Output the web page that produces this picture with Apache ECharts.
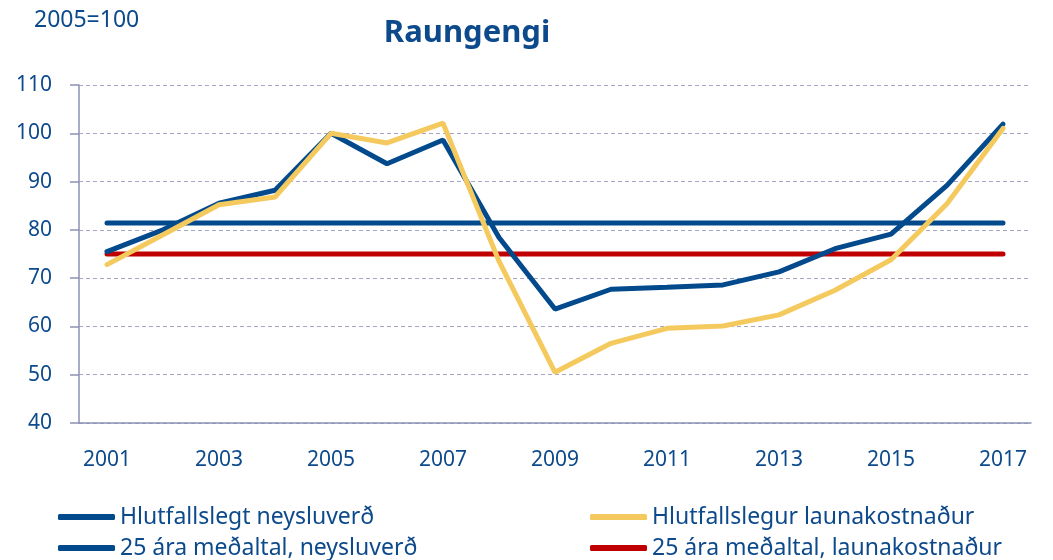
<!DOCTYPE html>
<html>
<head>
<meta charset="utf-8">
<script src="https://cdn.jsdelivr.net/npm/echarts@6/dist/echarts.min.js"></script>
<style>
  html, body { margin: 0; padding: 0; background: #fff; }
  #main { width: 1053px; height: 560px; }
</style>
</head>
<body>
<div id="main"></div>
<script>
// ár á x-ásnum
const years = ['2001', '2002', '2003', '2004', '2005', '2006', '2007', '2008', '2009',
  '2010', '2011', '2012', '2013', '2014', '2015', '2016', '2017']

// Hlutfallslegt neysluverð
const neysluverd = [75.5, 80.0, 85.5, 88.2, 100.0, 93.7, 98.6, 78.4, 63.6,
  67.7, 68.1, 68.6, 71.3, 76.1, 79.1, 89.2, 101.9]

// Hlutfallslegur launakostnaður
const launakostnadur = [72.8, 79.0, 85.2, 86.8, 100.0, 98.0, 102.1, 73.5, 50.5,
  56.5, 59.6, 60.1, 62.4, 67.5, 73.8, 85.4, 101.0]

// 25 ára meðaltöl
const medaltalNeysluverd = [81.4, 81.4, 81.4, 81.4, 81.4, 81.4, 81.4, 81.4, 81.4,
  81.4, 81.4, 81.4, 81.4, 81.4, 81.4, 81.4, 81.4]
const medaltalLaun = [75.0, 75.0, 75.0, 75.0, 75.0, 75.0, 75.0, 75.0, 75.0,
  75.0, 75.0, 75.0, 75.0, 75.0, 75.0, 75.0, 75.0]

const txtColor = '#0d4a8c'
const font = '"Noto Sans", sans-serif'

const chart = echarts.init(document.getElementById('main'))

// ein skýring fyrir hverja línu, svo staðsetningin sé eins og á myndinni
function legendItem(name, left, top) {
  return {
    left: left,
    top: top,
    padding: 0,
    data: [name],
    icon: 'roundRect',
    itemWidth: 57,
    itemHeight: 6,
    itemGap: 0,
    textStyle: { color: txtColor, fontSize: 23, fontFamily: font, lineHeight: 24 }
  }
}

const option = {
  animation: false,
  title: [{
    text: 'Raungengi',
    left: 462,
    top: 13,
    textAlign: 'center',
    textStyle: { color: txtColor, fontSize: 31, fontWeight: 'bold', fontFamily: font }
  }, {
    text: '2005=100',
    left: 29,
    top: 4,
    textStyle: { color: txtColor, fontSize: 23, fontWeight: 'normal', fontFamily: font }
  }],
  legend: [
    legendItem('Hlutfallslegt neysluverð', 58, 505),
    legendItem('25 ára meðaltal, neysluverð', 58, 536),
    legendItem('Hlutfallslegur launakostnaður', 590, 505),
    legendItem('25 ára meðaltal, launakostnaður', 590, 536)
  ],
  grid: { left: 79, right: 22, top: 85, bottom: 137 },
  xAxis: {
    type: 'category',
    data: years,
    boundaryGap: true,
    axisLine: { lineStyle: { color: '#8c91b5', width: 1.5 } },
    axisTick: { interval: 0, length: 8, lineStyle: { color: '#8c91b5', width: 1.5 } },
    axisLabel: { interval: 1, margin: 27, color: txtColor, fontSize: 21, fontFamily: font }
  },
  yAxis: {
    type: 'value',
    min: 40,
    max: 110,
    interval: 10,
    axisLine: { show: true, lineStyle: { color: '#8c91b5', width: 1.5 } },
    axisTick: { show: true, length: 9, lineStyle: { color: '#8c91b5', width: 1.5 } },
    axisLabel: { margin: 27, color: txtColor, fontSize: 21, fontFamily: font },
    splitLine: { lineStyle: { color: '#a3a7c4', type: [4, 3], width: 1.2 } }
  },
  series: [
    {
      name: '25 ára meðaltal, neysluverð',
      type: 'line',
      data: medaltalNeysluverd,
      showSymbol: false,
      lineStyle: { color: '#034a8d', width: 5, cap: 'round' },
      itemStyle: { color: '#034a8d' }
    },
    {
      name: '25 ára meðaltal, launakostnaður',
      type: 'line',
      data: medaltalLaun,
      showSymbol: false,
      lineStyle: { color: '#c00000', width: 5, cap: 'round' },
      itemStyle: { color: '#c00000' }
    },
    {
      name: 'Hlutfallslegt neysluverð',
      type: 'line',
      data: neysluverd,
      showSymbol: false,
      lineStyle: { color: '#034a8d', width: 5, cap: 'round' },
      itemStyle: { color: '#034a8d' }
    },
    {
      name: 'Hlutfallslegur launakostnaður',
      type: 'line',
      data: launakostnadur,
      showSymbol: false,
      lineStyle: { color: '#f4c95d', width: 5, cap: 'round' },
      itemStyle: { color: '#f4c95d' }
    }
  ]
}

chart.setOption(option)
</script>
</body>
</html>
